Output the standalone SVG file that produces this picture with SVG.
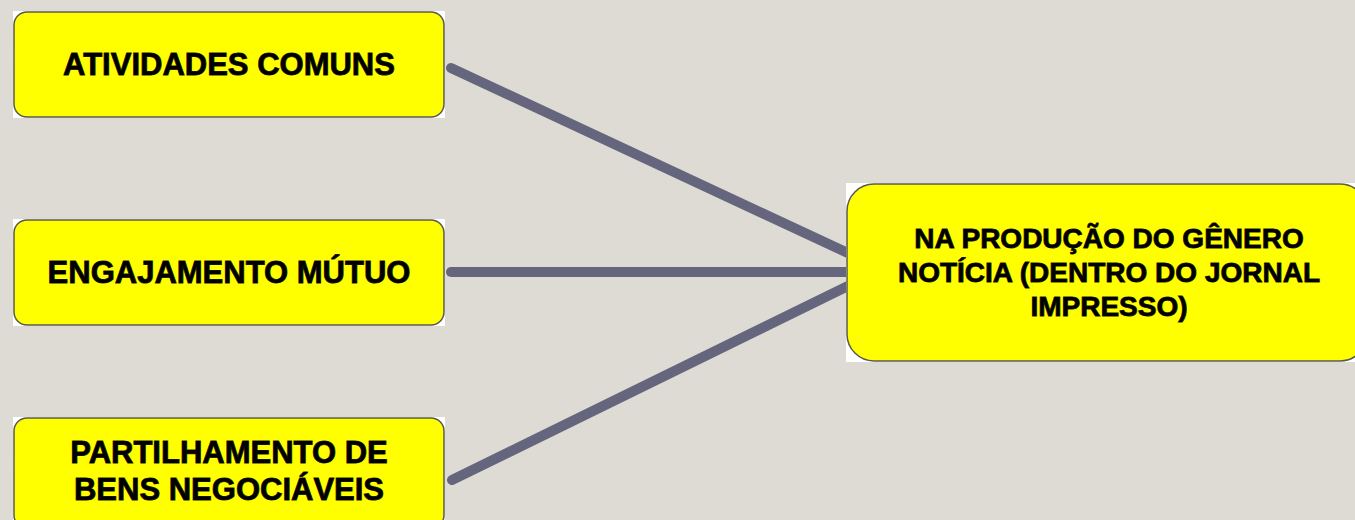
<svg xmlns="http://www.w3.org/2000/svg" width="1355" height="520" viewBox="0 0 1355 520">
<style>
.bg{fill:#ffffff}
.box{fill:#ffff00;stroke:#5a5a50;stroke-width:1.5}
.t{font-family:"Liberation Sans",Arial,sans-serif;font-weight:bold;fill:#000;text-anchor:middle;stroke:#2a2a00;stroke-width:0.9;paint-order:stroke}
.conn{stroke:#65667e;stroke-width:10;stroke-linecap:round;fill:none}
</style>
<rect width="1355" height="520" fill="#dddbd3"/>
<g id="connectors">
<line class="conn" x1="451" y1="68" x2="850" y2="254"/>
<line class="conn" x1="451" y1="272" x2="850" y2="272"/>
<line class="conn" x1="452" y1="480" x2="850" y2="285"/>
</g>
<g id="n1">
<rect class="bg" x="13" y="11" width="432" height="107"/>
<rect class="box" x="14" y="12" width="430" height="105" rx="13"/>
<text class="t" x="229" y="75" font-size="31">ATIVIDADES COMUNS</text>
</g>
<g id="n2">
<rect class="bg" x="13" y="219" width="432" height="107"/>
<rect class="box" x="14" y="220" width="430" height="105" rx="13"/>
<text class="t" x="229" y="283" font-size="31">ENGAJAMENTO MÚTUO</text>
</g>
<g id="n3">
<rect class="bg" x="13" y="417" width="432" height="110"/>
<rect class="box" x="14" y="418" width="430" height="110" rx="13"/>
<text class="t" x="229" y="463" font-size="31">PARTILHAMENTO DE</text>
<text class="t" x="229" y="500" font-size="31">BENS NEGOCIÁVEIS</text>
</g>
<g id="n4">
<rect class="bg" x="846" y="183" width="520" height="179"/>
<rect class="box" x="847" y="184" width="520" height="177" rx="27"/>
<text class="t" x="1109" y="248" font-size="28">NA PRODUÇÃO DO GÊNERO</text>
<text class="t" x="1109" y="282" font-size="28">NOTÍCIA (DENTRO DO JORNAL</text>
<text class="t" x="1109" y="316" font-size="28">IMPRESSO)</text>
</g>
</svg>
